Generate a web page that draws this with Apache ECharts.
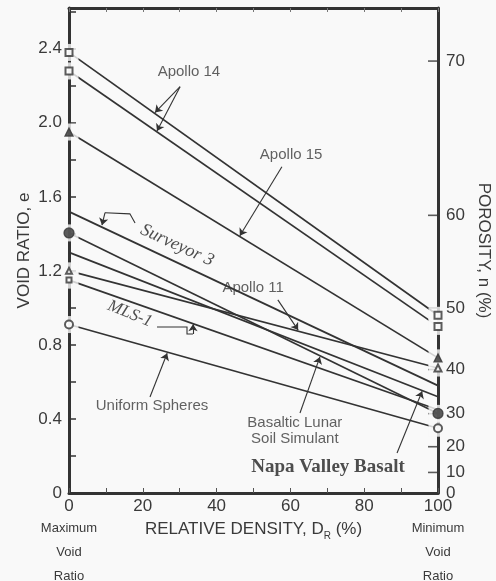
<!DOCTYPE html>
<html><head><meta charset="utf-8">
<script src="https://cdn.jsdelivr.net/npm/echarts@6/dist/echarts.min.js"></script>
<style>html,body{margin:0;padding:0;background:#f9f9f9}#c{width:496px;height:581px}</style>
</head><body><div id="c"></div>
<script>
// ---- data ----
const materials = ['Apollo 14 (upper)', 'Apollo 14 (lower)', 'Apollo 15', 'Surveyor 3', 'Basaltic Lunar Soil Simulant', 'Napa Valley Basalt', 'Apollo 11', 'MLS-1', 'Uniform Spheres'];
const eMax = [2.38, 2.28, 1.95, 1.52, 1.405, 1.30, 1.20, 1.15, 0.91];   // void ratio at D_R = 0 %
const eMin = [0.96, 0.90, 0.73, 0.58, 0.43, 0.52, 0.675, 0.45, 0.35];  // void ratio at D_R = 100 %
const relDensityEnds = [0, 100];
const xTicks = [0, 20, 40, 60, 80, 100];
const voidLabels = [0, 0.4, 0.8, 1.2, 1.6, 2.0, 2.4];
const porosityTicks = [0, 10, 20, 30, 40, 50, 60, 70];
const annotations = [
  {text: 'Apollo 14', at: [32.5, 2.276]},
  {text: 'Apollo 15', at: [60.2, 1.827]},
  {text: 'Surveyor 3', at: [29.3, 1.338]},
  {text: 'Apollo 11', at: [49.9, 1.108]},
  {text: 'MLS-1', at: [16.5, 0.968]},
  {text: 'Basaltic Lunar\nSoil Simulant', at: [61.2, 0.335]},
  {text: 'Napa Valley Basalt', at: [70.2, 0.141]},
  {text: 'Uniform Spheres', at: [22.5, 0.47]}
];
// leader polylines; the last segment of each ends in an arrowhead
const leaders = [
  [[30.1, 2.195], [23.3, 2.055]],
  [[30.1, 2.195], [23.85, 1.955]],
  [[57.7, 1.762], [46.3, 1.39]],
  [[17.9, 1.459], [16.5, 1.508], [9.76, 1.514], [8.94, 1.447]],
  [[56.6, 1.043], [62.1, 0.88]],
  [[23.85, 0.897], [31.98, 0.897], [31.98, 0.859], [33.6, 0.859], [33.6, 0.912]],
  [[62.6, 0.432], [68.0, 0.735]],
  [[88.9, 0.216], [95.7, 0.55]],
  [[21.95, 0.519], [26.6, 0.755]]
];

// ---- styles ----
const BG = '#f9f9f9', INK = '#333', TXT = '#3a3a3a';
const SANS = 'Liberation Sans', SERIF = 'Liberation Serif';
const leftMarker  = ['emptyRect', 'emptyRect', 'triangle', null, 'circle', null, 'emptyTriangle', 'emptyRect', 'emptyCircle'];
const rightMarker = ['emptyRect', 'emptyRect', 'triangle', null, 'circle', null, 'emptyTriangle', null, 'emptyCircle'];
const markerSize = {emptyRect: 7, triangle: 8, circle: 10, emptyTriangle: 7, emptyCircle: 8};
const annStyle = {
  'Surveyor 3': {fontFamily: SERIF, fontStyle: 'italic', fontSize: 18, rotate: -24.5, color: '#222'},
  'MLS-1': {fontFamily: SERIF, fontStyle: 'italic', fontSize: 17, rotate: -22, color: '#222'},
  'Napa Valley Basalt': {fontFamily: SERIF, fontWeight: 'bold', fontSize: 19, color: '#222'}
};

const porosityAsVoid = porosityTicks.map(n => n / (100 - n));   // e = n / (1 - n)

const lineSeries = materials.map((m, i) => ({
  type: 'line', name: m, z: 2, silent: true, symbol: 'none',
  lineStyle: {color: INK, width: 1.7},
  data: [[relDensityEnds[0], eMax[i]], [relDensityEnds[1], eMin[i]]]
}));

const maskData = [], markerData = [];
materials.forEach((m, i) => {
  [[leftMarker[i], relDensityEnds[0], eMax[i], 3], [rightMarker[i], relDensityEnds[1], eMin[i], -3]].forEach(([sym, x, y, off]) => {
    if (!sym) return;
    maskData.push({value: [x, y], symbolOffset: [off, 0]});
    let s = markerSize[sym];
    if (m === 'Apollo 11' && x === 0) s = 6;
    if (m === 'MLS-1') s = 5;
    markerData.push({value: [x, y], symbol: sym, symbolSize: s});
  });
});

const leaderBodies = leaders.filter(c => c.length > 2).map(c => ({coords: c.slice(0, -1)}));
const leaderArrows = leaders.map(c => ({coords: c.slice(-2)}));

const chart = echarts.init(document.getElementById('c'), null, {renderer: 'canvas'});
const endLabel = (v) => {
  if (v === 0) return '{n|0}\n{s|Maximum}\n{s|Void}\n{s|Ratio}';
  if (v === 100) return '{n|100}\n{s|Minimum}\n{s|Void}\n{s|Ratio}';
  return '{n|' + v + '}';
};
chart.setOption({
  backgroundColor: BG,
  animation: false,
  grid: {left: 69, right: 58, top: 8, bottom: 88, containLabel: false, outerBoundsMode: 'none'},
  xAxis: [{
    type: 'value', min: 0, max: 100, interval: 10, position: 'bottom',
    name: 'RELATIVE DENSITY, D{sub|R} (%)', nameLocation: 'middle', nameGap: 24, nameMoveOverlap: false,
    nameTextStyle: {fontFamily: SANS, fontSize: 17, color: TXT, rich: {sub: {fontFamily: SANS, fontSize: 10, color: TXT, verticalAlign: 'bottom', lineHeight: 24}}},
    axisLine: {show: true, onZero: false, lineStyle: {color: INK, width: 3}},
    axisTick: {show: true, inside: true, length: 5, lineStyle: {color: '#555', width: 1}},
    splitLine: {show: false},
    axisLabel: {
      customValues: xTicks, margin: 3, formatter: endLabel,
      rich: {n: {fontFamily: SANS, fontSize: 17, color: TXT, lineHeight: 20},
             s: {fontFamily: SANS, fontSize: 13, color: TXT, lineHeight: 24}}
    }
  }, {
    type: 'value', min: 0, max: 100, interval: 10, position: 'top',
    axisLine: {show: true, onZero: false, lineStyle: {color: INK, width: 3}},
    axisTick: {show: true, inside: true, length: 4, lineStyle: {color: '#777', width: 1}},
    axisLabel: {show: false}, splitLine: {show: false}
  }],
  yAxis: [{
    type: 'value', min: 0, max: 2.62, interval: 0.2, position: 'left',
    name: 'VOID RATIO, e', nameLocation: 'middle', nameGap: 36, nameMoveOverlap: false,
    nameTextStyle: {fontFamily: SANS, fontSize: 17, color: TXT},
    axisLine: {show: true, onZero: false, lineStyle: {color: INK, width: 3}},
    axisTick: {show: true, inside: true, length: 7, lineStyle: {color: INK, width: 1.5}},
    splitLine: {show: false},
    axisLabel: {customValues: voidLabels, margin: 7, fontFamily: SANS, fontSize: 17, color: TXT,
      formatter: v => (v === 0 ? '0' : v.toFixed(1))}
  }, {
    type: 'value', min: 0, max: 2.62, position: 'right',
    name: 'POROSITY, n (%)', nameLocation: 'middle', nameGap: 37, nameRotate: -90, nameMoveOverlap: false,
    nameTextStyle: {fontFamily: SANS, fontSize: 17, color: TXT},
    axisLine: {show: true, onZero: false, lineStyle: {color: INK, width: 3}},
    axisTick: {show: false},
    splitLine: {show: false},
    axisLabel: {customValues: porosityAsVoid, margin: 8, fontFamily: SANS, fontSize: 17, color: TXT,
      formatter: v => String(Math.round(100 * v / (1 + v)))}
  }],
  series: [
    ...lineSeries,
    {type: 'scatter', z: 3, silent: true, clip: false, symbol: 'rect', symbolSize: [10, 1.6], symbolOffset: [-5, 0],
      itemStyle: {color: INK}, data: porosityAsVoid.slice(1).map(e => [relDensityEnds[1], e])},
    {type: 'scatter', z: 3, silent: true, symbol: 'rect', symbolSize: [13, 17], itemStyle: {color: BG}, data: maskData},
    {type: 'scatter', z: 4, silent: true, itemStyle: {color: INK, borderColor: INK, borderWidth: 1.3}, data: markerData},
    {type: 'lines', coordinateSystem: 'cartesian2d', z: 5, silent: true, polyline: true, symbol: 'none',
      lineStyle: {color: INK, width: 1.1, opacity: 1}, data: leaderBodies},
    {type: 'lines', coordinateSystem: 'cartesian2d', z: 5, silent: true, polyline: false,
      symbol: ['none', 'arrow'], symbolSize: 7,
      lineStyle: {color: INK, width: 1.1, opacity: 1}, data: leaderArrows},
    {type: 'scatter', z: 6, silent: true, symbolSize: 1, itemStyle: {color: 'rgba(0,0,0,0)'},
      data: annotations.map(a => ({
        value: a.at,
        label: Object.assign({show: true, position: 'inside', formatter: a.text, fontFamily: SANS, fontSize: 15,
          color: TXT, lineHeight: 16, align: 'center', verticalAlign: 'middle'}, annStyle[a.text] || {})
      }))}
  ]
});
</script></body></html>
